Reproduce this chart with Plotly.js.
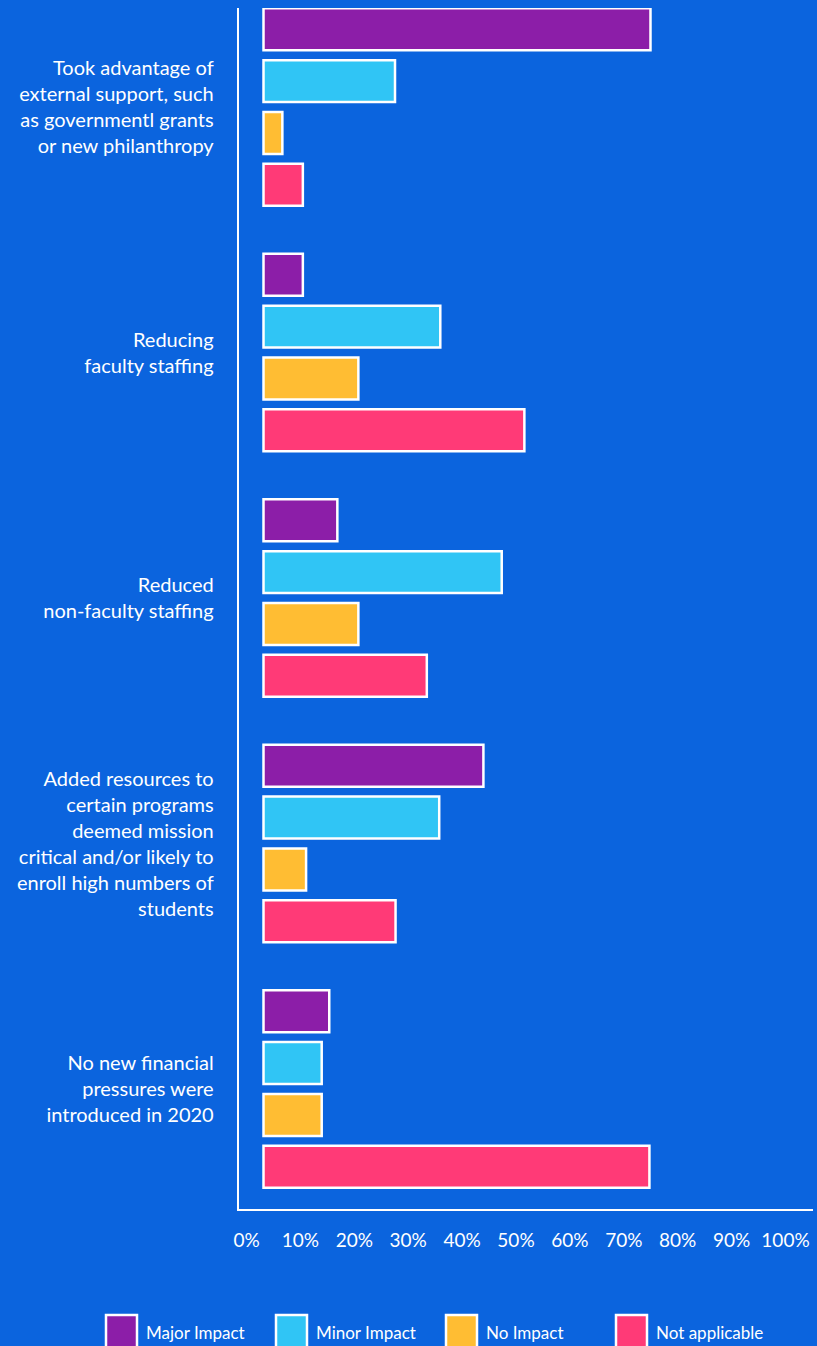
<!DOCTYPE html>
<html>
<head>
<meta charset="utf-8">
<script src="https://cdn.plot.ly/plotly-3.0.1.min.js"></script>
<style>
  html, body { margin: 0; padding: 0; background: #0b64de; }
  #chart { width: 817px; height: 1346px; }
</style>
</head>
<body>
<div id="chart"></div>
<script>
// ---- data ----
const categories = [
  "Took advantage of<br>external support, such<br>as governmentl grants<br>or new philanthropy",
  "Reducing<br>faculty staffing",
  "Reduced<br>non-faculty staffing",
  "Added resources to<br>certain programs<br>deemed mission<br>critical and/or likely to<br>enroll high numbers of<br>students",
  "No new financial<br>pressures were<br>introduced in 2020"
];
const seriesNames = ["Major Impact", "Minor Impact", "No Impact", "Not applicable"];
const majorImpact   = [71.8, 7.3, 13.7, 40.8, 12.2];
const minorImpact   = [24.4, 32.8, 44.2, 32.6, 10.8];
const noImpact      = [3.5, 17.6, 17.6, 7.9, 10.8];
const notApplicable = [7.3, 48.4, 30.3, 24.5, 71.6];
const tickValues = [0, 10, 20, 30, 40, 50, 60, 70, 80, 90, 100];
const tickLabels = ["0%", "10%", "20%", "30%", "40%", "50%", "60%", "70%", "80%", "90%", "100%"];

// ---- styling ----
const colors = ["#8c1ea8", "#30c5f5", "#ffbd33", "#ff3a77"];
const bg = "#0b64de";
const FONT = "Lato, 'Open Sans', sans-serif";
const W = 817, H = 1346;
const M = {l: 239, r: 4, t: 8, b: 137};
const plotW = W - M.l - M.r, plotH = H - M.t - M.b;

const allSeries = [majorImpact, minorImpact, noImpact, notApplicable];
const traces = allSeries.map((vals, i) => ({
  type: "bar",
  orientation: "h",
  name: seriesNames[i],
  x: vals,
  y: categories,
  marker: {color: colors[i], line: {color: "#ffffff", width: 2.5}},
  hovertemplate: "%{x}%<extra>" + seriesNames[i] + "</extra>"
}));

// custom legend (large squares) built from series names/colors
const px2x = p => (p - M.l) / plotW;
const px2y = p => (H - M.b - p) / plotH;
const shapes = [], annotations = [];
seriesNames.forEach((n, i) => {
  const left = 106 + 170 * i;
  shapes.push({
    type: "rect", xref: "paper", yref: "paper",
    x0: px2x(left), x1: px2x(left + 31), y0: px2y(1362), y1: px2y(1315),
    fillcolor: colors[i], line: {color: "#ffffff", width: 2.5}
  });
  annotations.push({
    xref: "paper", yref: "paper", x: px2x(left + 38), y: px2y(1332),
    xanchor: "left", yanchor: "middle", showarrow: false,
    text: n, font: {family: FONT, size: 17, color: "#ffffff"}
  });
});

const layout = {
  width: W, height: H,
  margin: M,
  paper_bgcolor: bg, plot_bgcolor: bg,
  barmode: "group",
  bargap: 0.156,
  bargroupgap: 0.19,
  showlegend: false,
  font: {family: FONT, color: "#ffffff"},
  xaxis: {
    range: [-4.545, 101.95],
    tickvals: tickValues, ticktext: tickLabels,
    ticklabelshift: -17,
    ticklabelstandoff: 13,
    showgrid: false, zeroline: false,
    showline: true, linecolor: "#ffffff", linewidth: 2.3,
    ticks: "", tickfont: {family: FONT, size: 19, color: "#ffffff"},
    fixedrange: true
  },
  yaxis: {
    type: "category",
    range: [4.4888, -0.4033],
    ticklabelstandoff: 19,
    showgrid: false, zeroline: false,
    showline: true, linecolor: "#ffffff", linewidth: 2.3,
    ticks: "", tickfont: {family: FONT, size: 20, color: "#ffffff"},
    fixedrange: true
  },
  shapes: shapes,
  annotations: annotations
};

Plotly.newPlot("chart", traces, layout, {displayModeBar: false, staticPlot: true});
</script>
</body>
</html>
